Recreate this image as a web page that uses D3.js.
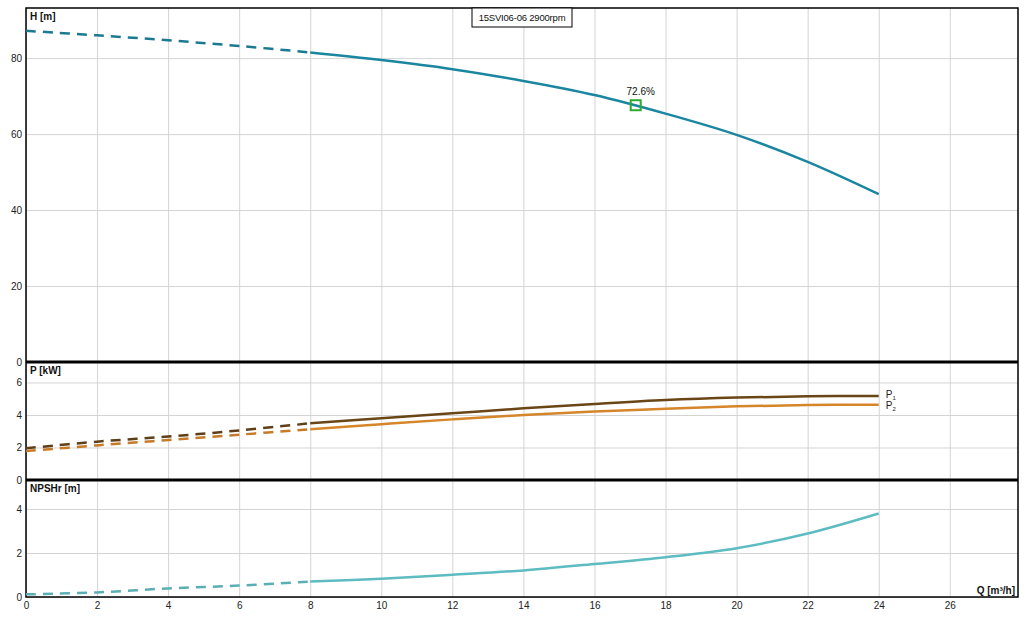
<!DOCTYPE html>
<html>
<head>
<meta charset="utf-8">
<script src="https://cdn.jsdelivr.net/npm/d3@7"></script>
<style>
  body { margin: 0; background: #fff; }
  text { font-family: "Liberation Sans", Arial, sans-serif; }
  .grid line { stroke: #d4d4d4; stroke-width: 1; }
  .grid path { display: none; }
  .tick text { font-size: 10px; fill: #222; }
</style>
</head>
<body>
<svg id="chart" width="1028" height="621"></svg>
<script>
// data
const flow = [0, 2, 4, 6, 8, 10, 12, 14, 16, 18, 20, 22, 24];
const head = [87.2, 86.0, 84.7, 83.2, 81.5, 79.5, 77.1, 74.0, 70.3, 65.4, 59.8, 52.7, 44.2];
const powerP1 = [1.95, 2.36, 2.67, 3.05, 3.49, 3.80, 4.10, 4.41, 4.68, 4.92, 5.07, 5.15, 5.17];
const powerP2 = [1.78, 2.13, 2.46, 2.79, 3.12, 3.43, 3.73, 4.00, 4.22, 4.38, 4.53, 4.61, 4.63];
const npshr = [0.12, 0.21, 0.39, 0.52, 0.70, 0.83, 1.01, 1.21, 1.50, 1.81, 2.22, 2.89, 3.80];
const dashedUpTo = 8;
const bepPoint = { q: 17.16, h: 67.6, label: "72.6%" };
const title = "15SVI06-06 2900rpm";
const xTicks = [0, 2, 4, 6, 8, 10, 12, 14, 16, 18, 20, 22, 24, 26];
const hTicks = [0, 20, 40, 60, 80];
const pTicks = [0, 2, 4, 6];
const nTicks = [0, 2, 4];

const svg = d3.select("#chart");
const left = 26, right = 1018;

const x = d3.scaleLinear().domain([0, 27.92]).range([left, right]);

// three stacked panels
const panels = [
    { top: 8,   bottom: 362, max: 93.2, ticks: hTicks, label: "H [m]" },
    { top: 362, bottom: 480, max: 7.26, ticks: pTicks, label: "P [kW]" },
    { top: 480, bottom: 597, max: 5.32, ticks: nTicks, label: "NPSHr [m]" }
];
panels.forEach(p => {
    p.y = d3.scaleLinear().domain([0, p.max]).range([p.bottom, p.top]);
});

// grid
panels.forEach(p => {
    svg.append("g").attr("class", "grid")
        .attr("transform", "translate(0," + p.bottom + ")")
        .call(d3.axisBottom(x).tickValues(xTicks).tickSize(p.top - p.bottom).tickFormat(""));
    svg.append("g").attr("class", "grid")
        .attr("transform", "translate(" + left + ",0)")
        .call(d3.axisLeft(p.y).tickValues(p.ticks).tickSize(left - right).tickFormat(""));
    // y tick labels
    const ya = svg.append("g")
        .attr("transform", "translate(" + left + ",0)")
        .call(d3.axisLeft(p.y).tickValues(p.ticks).tickSize(0).tickPadding(4).tickFormat(d3.format("d")));
    ya.select(".domain").remove();
    ya.selectAll("text").attr("dy", "0.35em");
    svg.append("text")
        .attr("x", left + 4).attr("y", p.top + 12)
        .attr("font-size", 10).attr("font-weight", "bold").attr("fill", "#111")
        .text(p.label);
});

// x axis labels
const xa = svg.append("g")
    .attr("transform", "translate(0,597)")
    .call(d3.axisBottom(x).tickValues(xTicks).tickSize(0).tickPadding(5));
xa.select(".domain").remove();

// frame
svg.append("rect")
    .attr("x", left).attr("y", 8)
    .attr("width", right - left).attr("height", 597 - 8)
    .attr("fill", "none").attr("stroke", "#000").attr("stroke-width", 1.5);
[362, 480].forEach(yy => {
    svg.append("line")
        .attr("x1", left).attr("x2", right).attr("y1", yy).attr("y2", yy)
        .attr("stroke", "#000").attr("stroke-width", 3);
});

// curves, dashed below 8 m3/h and solid after
function drawCurve(values, yScale, color, dashColor) {
    const pts = flow.map((q, i) => [q, values[i]]);
    const line = d3.line()
        .x(d => x(d[0]))
        .y(d => yScale(d[1]))
        .curve(d3.curveCatmullRom.alpha(0.5));
    svg.append("path")
        .attr("d", line(pts.filter(d => d[0] <= dashedUpTo)))
        .attr("fill", "none").attr("stroke", dashColor)
        .attr("stroke-width", 2.5).attr("stroke-dasharray", "10,7");
    svg.append("path")
        .attr("d", line(pts.filter(d => d[0] >= dashedUpTo)))
        .attr("fill", "none").attr("stroke", color)
        .attr("stroke-width", 2.5);
}

drawCurve(head, panels[0].y, "#1a86a0", "#1b7a92");
drawCurve(powerP1, panels[1].y, "#6a4516", "#5e3f17");
drawCurve(powerP2, panels[1].y, "#d5852a", "#c77a28");
drawCurve(npshr, panels[2].y, "#5dbcc2", "#5aafb5");

// best efficiency marker
svg.append("rect")
    .attr("x", x(bepPoint.q) - 5).attr("y", panels[0].y(bepPoint.h) - 5)
    .attr("width", 10).attr("height", 10)
    .attr("fill", "none").attr("stroke", "#2eaa2e").attr("stroke-width", 2);
svg.append("text")
    .attr("x", x(bepPoint.q) + 5).attr("y", panels[0].y(bepPoint.h) - 10)
    .attr("text-anchor", "middle").attr("font-size", 10).attr("fill", "#111")
    .text(bepPoint.label);

// P1 / P2 labels
const lastIdx = flow.length - 1;
[["P", "1", powerP1[lastIdx], -1], ["P", "2", powerP2[lastIdx], 1]].forEach(d => {
    const t = svg.append("text")
        .attr("x", x(flow[lastIdx]) + 7)
        .attr("y", panels[1].y(d[2]) + 3 + d[3])
        .attr("font-size", 10).attr("fill", "#222");
    t.append("tspan").text(d[0]);
    t.append("tspan").attr("font-size", 6).attr("dy", 2).text(d[1]);
});

// title box
svg.append("rect")
    .attr("x", 472).attr("y", 8).attr("width", 100).attr("height", 19)
    .attr("fill", "#fff").attr("stroke", "#000").attr("stroke-width", 1);
svg.append("text")
    .attr("x", 522).attr("y", 21)
    .attr("text-anchor", "middle").attr("font-size", 9.5).attr("fill", "#111")
    .attr("letter-spacing", "-0.2")
    .text(title);

// x axis title
svg.append("text")
    .attr("x", right - 3).attr("y", 594)
    .attr("text-anchor", "end").attr("font-size", 10).attr("font-weight", "bold").attr("fill", "#111")
    .text("Q [m³/h]");
</script>
</body>
</html>
